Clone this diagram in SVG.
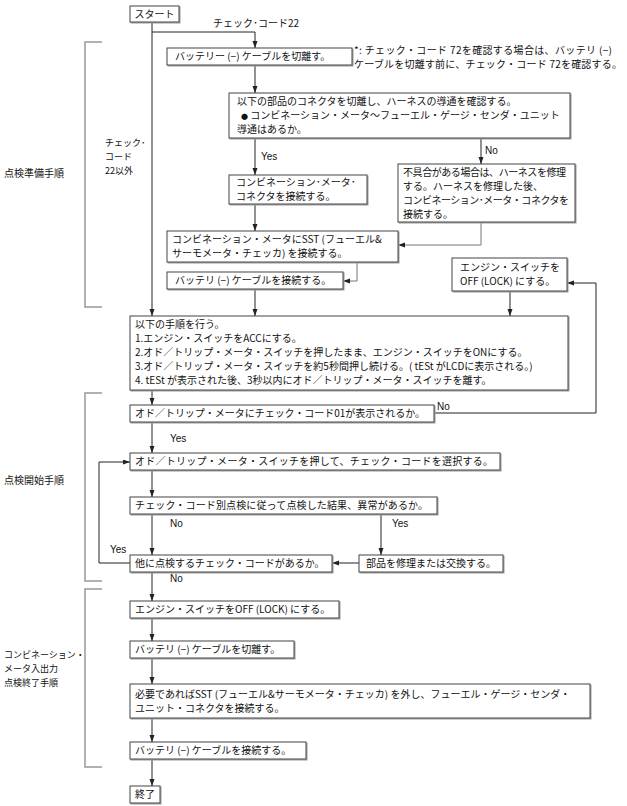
<svg xmlns="http://www.w3.org/2000/svg" width="627" height="806" viewBox="0 0 627 806">
<style>
.b{fill:#fff;stroke:#444;stroke-width:1;filter:url(#sh)}
.t{font-family:"Noto Sans CJK JP","Noto Sans",sans-serif;font-size:10px;fill:#111}
.s{font-family:"Noto Sans CJK JP","Noto Sans",sans-serif;font-size:9px;fill:#111}
.l{font-family:"Liberation Sans",Arial,sans-serif;font-size:10px;fill:#111}
.c{fill:none;stroke:#222;stroke-width:1;marker-end:url(#a)}
.g{stroke:#777}
.br{fill:none;stroke:#999;stroke-width:1.5}
</style>
<defs>
<filter id="sh" x="-5%" y="-20%" width="110%" height="140%"><feDropShadow dx="1" dy="1" stdDeviation="0" flood-color="#999"/></filter>
<marker id="a" markerWidth="8" markerHeight="6" refX="7" refY="2.5" orient="auto" markerUnits="userSpaceOnUse"><path d="M0,0 L7,2.5 L0,5 z" fill="#222"/></marker>
</defs>
<rect width="627" height="806" fill="#fff"/>
<g id="brackets">
<path class="br" d="M102,42 H85 V307 H102"/>
<path class="br" d="M102,393 H85 V581 H102"/>
<path class="br" d="M102,589 H85 V767 H102"/>
</g>
<g id="side-labels">
<text class="t" x="4" y="177">点検準備手順</text>
<text class="s" x="105" y="146">チェック･</text>
<text class="s" x="105" y="160">コード</text>
<text class="s" x="105" y="174">22以外</text>
<text class="t" x="4" y="484">点検開始手順</text>
<text class="s" x="4" y="658">コンビネーション・</text>
<text class="s" x="4" y="672">メータ入出力</text>
<text class="s" x="4" y="686">点検終了手順</text>
</g>
<g id="connectors">
<path class="c" d="M152,22 V316"/>
<path class="c" d="M152,32 H255 V48"/>
<path class="c" d="M255,65 V93"/>
<path class="c" d="M255,138 V175"/>
<path class="c" d="M481,138 V164"/>
<path class="c" d="M255,204 V231"/>
<path class="c g" d="M481,222 V245 H398"/>
<path class="c g" d="M357,262 V281 H343"/>
<path class="c" d="M255,289 V316"/>
<path class="c" d="M510,291 V316"/>
<path class="c" d="M434,413 H596 V283 H567"/>
<path class="c" d="M152,390 V405"/>
<path class="c" d="M152,422 V453"/>
<path class="c" d="M152,470 V497"/>
<path class="c" d="M381,514 V555"/>
<path class="c" d="M152,514 V555"/>
<path class="c" d="M359,563 H332"/>
<path class="c" d="M130,563 H99 V462 H130"/>
<path class="c" d="M152,572 V601"/>
<path class="c" d="M152,618 V641"/>
<path class="c" d="M152,658 V684"/>
<path class="c" d="M152,718 V742"/>
<path class="c" d="M152,759 V786"/>
</g>
<g id="connector-labels">
<text class="t" x="213" y="27">チェック･コード22</text>
<text class="l" x="261" y="160">Yes</text>
<text class="l" x="485" y="154">No</text>
<text class="l" x="437" y="410">No</text>
<text class="l" x="170" y="442">Yes</text>
<text class="l" x="170" y="527">No</text>
<text class="l" x="392" y="527">Yes</text>
<text class="l" x="110" y="553">Yes</text>
<text class="l" x="170" y="582">No</text>
</g>
<g id="start"><rect class="b" x="130" y="6" width="49" height="16"/><text class="t" x="154.5" y="18" text-anchor="middle">スタート</text></g>
<g id="battery-off-1"><rect class="b" x="167" y="48" width="185" height="17"/><text class="t" x="175" y="60">バッテリー (−) ケーブルを切離す。</text></g>
<g id="note">
<text class="t" x="354" y="54" textLength="258">*: チェック・コード 72を確認する場合は、バッテリ (−)</text>
<text class="t" x="354" y="68" textLength="268">ケーブルを切離す前に、チェック・コード 72を確認する。</text>
</g>
<g id="harness-check"><rect class="b" x="229" y="93" width="341" height="45"/>
<text class="t" x="237" y="105">以下の部品のコネクタを切離し、ハーネスの導通を確認する。</text>
<text class="t" x="241" y="119"><tspan font-size="7">●</tspan> コンビネーション・メータ〜フューエル・ゲージ・センダ・ユニット</text>
<text class="t" x="237" y="133">導通はあるか。</text></g>
<g id="connect-meter"><rect class="b" x="229" y="175" width="138" height="29"/>
<text class="t" x="236" y="186">コンビネーション･メータ･</text>
<text class="t" x="236" y="200">コネクタを接続する。</text></g>
<g id="repair-harness"><rect class="b" x="398" y="164" width="177" height="58"/>
<text class="t" x="403" y="176" textLength="163">不具合がある場合は、ハーネスを修理</text>
<text class="t" x="403" y="190">する。ハーネスを修理した後、</text>
<text class="t" x="403" y="204" textLength="166">コンビネーション･メータ・コネクタを</text>
<text class="t" x="403" y="218">接続する。</text></g>
<g id="connect-sst"><rect class="b" x="167" y="231" width="231" height="31"/>
<text class="t" x="172" y="243">コンビネーション・メータにSST (フューエル&amp;</text>
<text class="t" x="172" y="257">サーモメータ・チェッカ) を接続する。</text></g>
<g id="battery-on-1"><rect class="b" x="167" y="272" width="176" height="17"/><text class="t" x="175" y="284">バッテリ (−) ケーブルを接続する。</text></g>
<g id="engine-off-1"><rect class="b" x="452" y="258" width="115" height="33"/>
<text class="t" x="460" y="271">エンジン・スイッチを</text>
<text class="t" x="460" y="285">OFF (LOCK) にする。</text></g>
<g id="procedure"><rect class="b" x="130" y="316" width="438" height="74"/>
<text class="t" x="135" y="328">以下の手順を行う。</text>
<text class="t" x="135" y="342">1.エンジン・スイッチをACCにする。</text>
<text class="t" x="135" y="356">2.オド／トリップ・メータ・スイッチを押したまま、エンジン・スイッチをONにする。</text>
<text class="t" x="135" y="370">3.オド／トリップ・メータ・スイッチを約5秒間押し続ける。( tESt がLCDに表示される。)</text>
<text class="t" x="135" y="384">4. tESt が表示された後、3秒以内にオド／トリップ・メータ・スイッチを離す。</text></g>
<g id="code01"><rect class="b" x="130" y="405" width="304" height="17"/><text class="t" x="135" y="417" textLength="290">オド／トリップ・メータにチェック・コード01が表示されるか。</text></g>
<g id="select-code"><rect class="b" x="130" y="453" width="370" height="17"/><text class="t" x="135" y="465" textLength="358">オド／トリップ・メータ・スイッチを押して、チェック・コードを選択する。</text></g>
<g id="inspect"><rect class="b" x="130" y="497" width="307" height="17"/><text class="t" x="135" y="509" textLength="293">チェック・コード別点検に従って点検した結果、異常があるか。</text></g>
<g id="repair-part"><rect class="b" x="359" y="555" width="144" height="17"/><text class="t" x="366" y="567">部品を修理または交換する。</text></g>
<g id="other-code"><rect class="b" x="130" y="555" width="202" height="17"/><text class="t" x="135" y="567">他に点検するチェック・コードがあるか。</text></g>
<g id="engine-off-2"><rect class="b" x="130" y="601" width="209" height="17"/><text class="t" x="135" y="613">エンジン・スイッチをOFF (LOCK) にする。</text></g>
<g id="battery-off-2"><rect class="b" x="130" y="641" width="164" height="17"/><text class="t" x="135" y="653">バッテリ (−) ケーブルを切離す。</text></g>
<g id="remove-sst"><rect class="b" x="130" y="684" width="460" height="34"/>
<text class="t" x="135" y="698">必要であればSST (フューエル&amp;サーモメータ・チェッカ) を外し、フューエル・ゲージ・センダ・</text>
<text class="t" x="135" y="712">ユニット・コネクタを接続する。</text></g>
<g id="battery-on-2"><rect class="b" x="130" y="742" width="176" height="17"/><text class="t" x="135" y="754">バッテリ (−) ケーブルを接続する。</text></g>
<g id="end"><rect class="b" x="130" y="786" width="30" height="17"/><text class="t" x="145" y="798" text-anchor="middle">終了</text></g>
</svg>
